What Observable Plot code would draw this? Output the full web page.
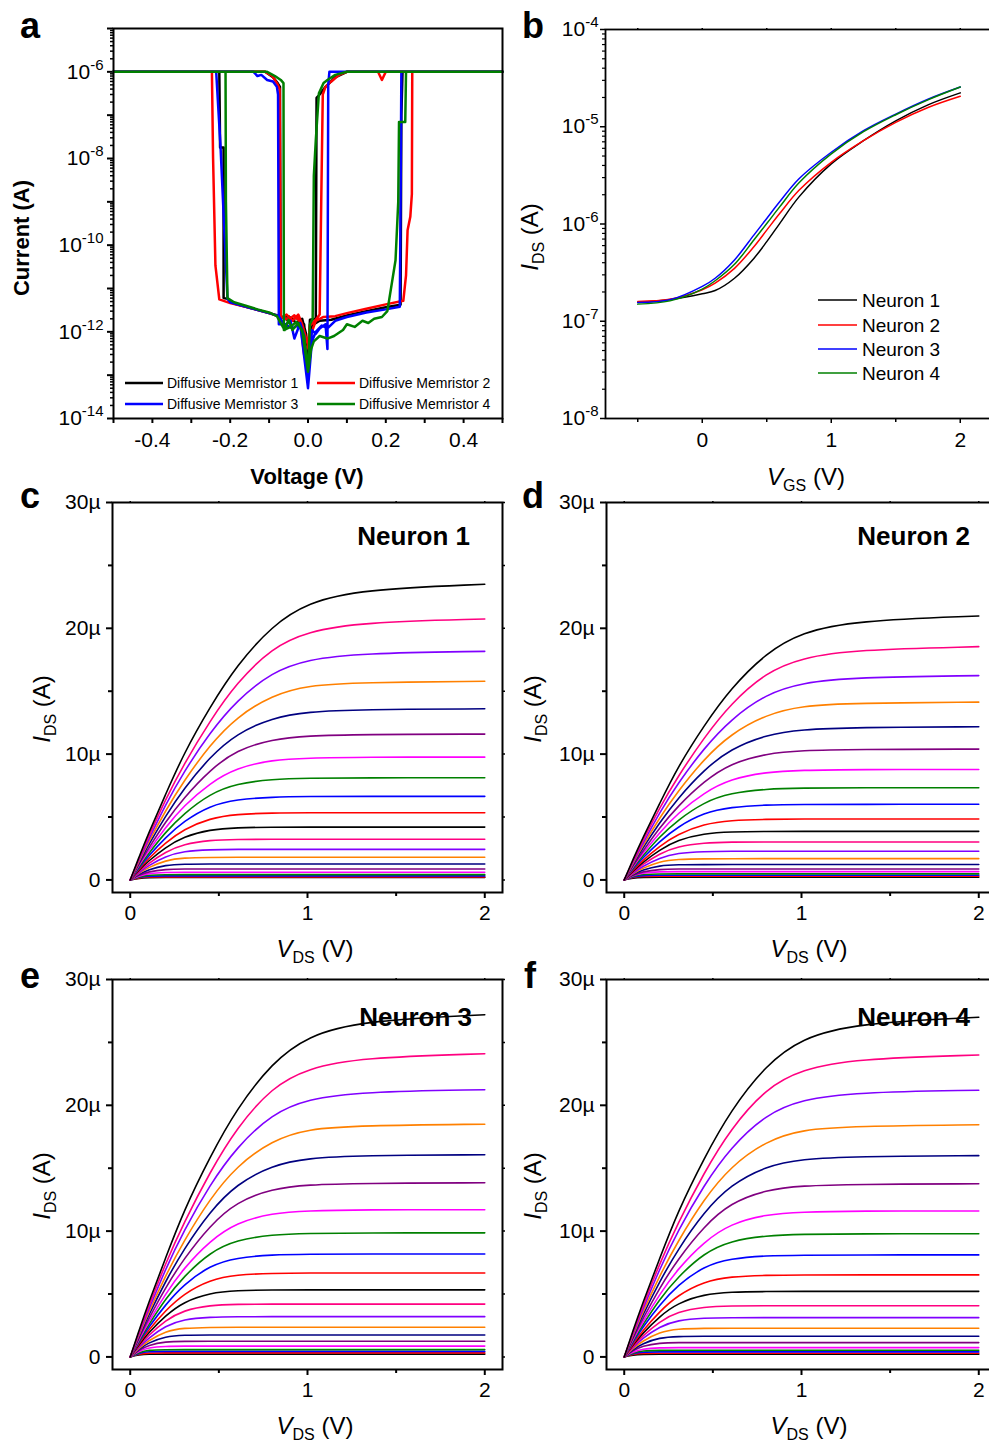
<!DOCTYPE html>
<html><head><meta charset="utf-8">
<script src="https://cdn.jsdelivr.net/npm/d3@7"></script>
<script src="https://cdn.jsdelivr.net/npm/@observablehq/plot@0.6"></script>
<style>
body{margin:0;background:#fff;overflow:hidden}
#root{position:relative;width:989px;height:1444px;overflow:hidden;background:#fff}
#root svg{position:absolute}
</style></head>
<body><div id="root"></div>
<script>
const FONT = '"Liberation Sans", Arial, Helvetica, sans-serif';

// ---------- Panel a : I-V of diffusive memristors, [V, I] in sweep order ----------
const memristor1 = [[0,2e-13],[0.01,1.4e-12],[0.03,1.8e-12],[0.06,1.9e-12],[0.1,2.4e-12],[0.15,3.0e-12],[0.2,3.7e-12],[0.238,4.2e-12],[0.24,1e-7],[0.243,1e-6],[0.5,1e-6],[0.1,1e-6],[0.07,7.5e-7],[0.045,4.5e-7],[0.03,3e-7],[0.022,2.5e-7],[0.02,2e-12],[0.005,1.9e-12],[0,2e-13],
 [-0.01,1.5e-12],[-0.03,2.1e-12],[-0.05,1.8e-12],[-0.07,2.3e-12],[-0.1,2.7e-12],[-0.15,3.6e-12],[-0.19,4.5e-12],[-0.207,5.8e-12],[-0.217,6e-12],[-0.217,1.8e-8],[-0.226,1.8e-8],[-0.228,1e-6],[-0.5,1e-6],[-0.11,1e-6],[-0.09,7.5e-7],[-0.078,5.5e-7],[-0.072,4.5e-7],[-0.07,2.2e-12],[-0.05,2.3e-12],[-0.03,1.6e-12],[-0.015,2e-12],[-0.005,9e-13],[0,2e-13]];
const memristor2 = [[0,5e-13],[0.01,1e-12],[0.02,1.8e-12],[0.04,2.2e-12],[0.07,2.3e-12],[0.1,2.7e-12],[0.15,3.4e-12],[0.2,4.3e-12],[0.245,5.2e-12],[0.252,2e-11],[0.256,2.2e-10],[0.263,4.5e-10],[0.267,1.5e-9],[0.268,1e-6],[0.5,1e-6],[0.2,1e-6],[0.19,6.5e-7],[0.18,1e-6],[0.1,1e-6],[0.08,8.5e-7],[0.06,6e-7],[0.045,4.5e-7],[0.038,3e-7],[0.034,1e-9],[0.03,2.5e-12],[0.02,1.9e-12],[0.005,1.4e-12],[0,5e-13],
 [-0.01,3e-13],[-0.02,1.7e-12],[-0.035,2.4e-12],[-0.05,1.9e-12],[-0.07,2.2e-12],[-0.1,2.7e-12],[-0.15,3.6e-12],[-0.2,4.6e-12],[-0.228,5.6e-12],[-0.238,3.4e-11],[-0.244,1e-8],[-0.247,1e-6],[-0.5,1e-6],[-0.11,1e-6],[-0.092,8e-7],[-0.08,5.5e-7],[-0.073,4e-7],[-0.07,2e-12],[-0.055,2.5e-12],[-0.04,1.8e-12],[-0.025,2.5e-12],[-0.015,1.5e-12],[0,5e-13]];
const memristor3 = [[0,5e-14],[0.01,6e-13],[0.02,1e-12],[0.035,1.4e-12],[0.05,1.2e-12],[0.07,1.8e-12],[0.1,2.2e-12],[0.15,2.8e-12],[0.2,3.3e-12],[0.236,3.8e-12],[0.238,1e-9],[0.24,1e-6],[0.5,1e-6],[0.055,1e-6],[0.052,5e-7],[0.05,4e-13],[0.045,1.5e-12],[0.03,1.2e-12],[0.02,9e-13],[0.01,1.1e-12],[0,5e-14],
 [-0.01,8e-13],[-0.02,1.6e-12],[-0.035,7e-13],[-0.045,1.8e-12],[-0.06,1.4e-12],[-0.075,2.3e-12],[-0.1,2.7e-12],[-0.15,3.6e-12],[-0.2,4.8e-12],[-0.207,5.8e-12],[-0.225,2e-8],[-0.236,1e-6],[-0.5,1e-6],[-0.14,1e-6],[-0.13,8e-7],[-0.12,8.5e-7],[-0.105,6.5e-7],[-0.09,6e-7],[-0.08,4.5e-7],[-0.077,3e-7],[-0.075,1.5e-12],[-0.06,1.5e-12],[-0.04,1.2e-12],[-0.02,1.5e-12],[0,5e-14]];
const memristor4 = [[0,1.2e-13],[0.008,4e-13],[0.015,6e-13],[0.03,8e-13],[0.05,7e-13],[0.067,8e-13],[0.09,1.1e-12],[0.1,1.5e-12],[0.12,1.3e-12],[0.14,1.8e-12],[0.155,1.6e-12],[0.17,2e-12],[0.19,2.2e-12],[0.204,3e-12],[0.225,4.5e-11],[0.232,1e-9],[0.234,7e-8],[0.25,7e-8],[0.252,1e-6],[0.5,1e-6],[0.1,1e-6],[0.07,8.5e-7],[0.05,6.5e-7],[0.04,5.5e-7],[0.033,4e-7],[0.028,3.2e-7],[0.02,2.6e-8],[0.015,4e-9],[0.012,2e-12],[0.005,1.5e-12],[0,1.2e-13],
 [-0.01,8e-13],[-0.025,1.6e-12],[-0.04,1.1e-12],[-0.05,1.9e-12],[-0.06,1.1e-12],[-0.08,2.3e-12],[-0.1,2.8e-12],[-0.13,3.3e-12],[-0.16,4e-12],[-0.19,4.8e-12],[-0.207,6e-12],[-0.211,1e-9],[-0.212,1e-6],[-0.5,1e-6],[-0.105,1e-6],[-0.085,8e-7],[-0.07,6.5e-7],[-0.063,5.5e-7],[-0.062,1.1e-12],[-0.045,1.3e-12],[-0.03,1.7e-12],[-0.015,1.1e-12],[0,1.2e-13]];
const memristorNames = ["Diffusive Memristor 1","Diffusive Memristor 2","Diffusive Memristor 3","Diffusive Memristor 4"];

// ---------- Panel b : transfer curves ----------
const vgsGrid = [-0.5,-0.25,0,0.1,0.25,0.4,0.5,0.6,0.75,1.0,1.25,1.5,1.75,2.0];
const transfer1 = [1.56e-7,1.67e-7,1.92e-7,2.07e-7,2.77e-7,4.43e-7,6.58e-7,1.01e-6,1.9e-6,4.15e-6,7.19e-6,1.15e-5,1.68e-5,2.23e-5];
const transfer2 = [1.6e-7,1.68e-7,2.11e-7,2.47e-7,3.5e-7,5.84e-7,8.65e-7,1.28e-6,2.22e-6,4.31e-6,7.19e-6,1.11e-5,1.58e-5,2.06e-5];
const transfer3 = [1.56e-7,1.66e-7,2.28e-7,2.77e-7,4.27e-7,7.69e-7,1.14e-6,1.69e-6,2.92e-6,5.47e-6,9.1e-6,1.35e-5,1.92e-5,2.56e-5];
const transfer4 = [1.5e-7,1.62e-7,2.14e-7,2.61e-7,3.85e-7,6.84e-7,1.01e-6,1.5e-6,2.65e-6,5.26e-6,8.89e-6,1.33e-5,1.89e-5,2.56e-5];
const neuronNames = ["Neuron 1","Neuron 2","Neuron 3","Neuron 4"];

// ---------- Panels c-f : output curves, I_DS in µA; rows = V_GS 0.0 ... 2.0 ----------
const vdsGrid = [0,0.05,0.1,0.2,0.3,0.45,0.6,0.8,1.0,1.3,2.0];
const neuron1Ids = [
[0,0.14,0.19,0.19,0.19,0.19,0.19,0.19,0.19,0.19,0.19],
[0,0.18,0.24,0.24,0.24,0.24,0.24,0.24,0.24,0.24,0.24],
[0,0.23,0.31,0.32,0.32,0.32,0.32,0.32,0.32,0.32,0.32],
[0,0.26,0.39,0.42,0.42,0.42,0.42,0.42,0.42,0.42,0.42],
[0,0.32,0.52,0.61,0.61,0.61,0.61,0.61,0.61,0.61,0.61],
[0,0.38,0.65,0.85,0.87,0.87,0.87,0.87,0.87,0.87,0.87],
[0,0.46,0.81,1.19,1.26,1.27,1.27,1.27,1.27,1.27,1.27],
[0,0.54,0.97,1.56,1.76,1.79,1.80,1.80,1.80,1.80,1.80],
[0,0.60,1.12,1.88,2.28,2.41,2.43,2.43,2.43,2.43,2.43],
[0,0.68,1.28,2.24,2.84,3.17,3.22,3.23,3.23,3.23,3.23],
[0,0.78,1.47,2.60,3.44,4.01,4.16,4.19,4.20,4.20,4.20],
[0,0.85,1.66,2.96,4.01,4.91,5.23,5.32,5.34,5.34,5.34],
[0,0.96,1.86,3.39,4.65,5.91,6.40,6.59,6.63,6.64,6.64],
[0,1.06,2.03,3.82,5.24,6.86,7.66,8.01,8.09,8.12,8.12],
[0,1.17,2.24,4.20,5.86,7.71,8.91,9.54,9.69,9.76,9.76],
[0,1.27,2.43,4.64,6.49,8.75,10.32,11.18,11.46,11.56,11.59],
[0,1.36,2.72,5.10,7.21,9.79,11.63,12.89,13.37,13.55,13.60],
[0,1.48,2.92,5.53,7.82,10.74,12.95,14.68,15.47,15.70,15.79],
[0,1.60,3.09,6.00,8.54,11.72,14.26,16.53,17.53,18.02,18.17],
[0,1.70,3.32,6.43,9.13,12.65,15.66,18.46,19.74,20.47,20.74],
[0,1.83,3.60,6.82,9.99,13.75,17.04,20.21,22.04,23.08,23.50]];
const neuron2Ids = [
[0,0.16,0.21,0.21,0.21,0.21,0.21,0.21,0.21,0.21,0.21],
[0,0.22,0.28,0.29,0.29,0.29,0.29,0.29,0.29,0.29,0.29],
[0,0.26,0.36,0.37,0.37,0.37,0.37,0.37,0.37,0.37,0.37],
[0,0.30,0.45,0.48,0.48,0.48,0.48,0.48,0.48,0.48,0.48],
[0,0.35,0.56,0.66,0.66,0.66,0.66,0.66,0.66,0.66,0.66],
[0,0.38,0.65,0.85,0.87,0.87,0.87,0.87,0.87,0.87,0.87],
[0,0.44,0.78,1.15,1.21,1.22,1.22,1.22,1.22,1.22,1.22],
[0,0.51,0.91,1.47,1.65,1.68,1.69,1.69,1.69,1.69,1.69],
[0,0.56,1.05,1.77,2.14,2.26,2.28,2.28,2.28,2.28,2.28],
[0,0.63,1.19,2.10,2.66,2.96,3.01,3.02,3.02,3.02,3.02],
[0,0.71,1.35,2.39,3.17,3.69,3.82,3.85,3.86,3.86,3.86],
[0,0.77,1.50,2.69,3.63,4.45,4.74,4.82,4.84,4.84,4.84],
[0,0.87,1.68,3.07,4.21,5.35,5.79,5.97,6.00,6.01,6.01],
[0,0.95,1.83,3.45,4.73,6.19,6.91,7.23,7.30,7.33,7.33],
[0,1.05,2.02,3.78,5.27,6.94,8.02,8.58,8.72,8.78,8.78],
[0,1.14,2.18,4.16,5.82,7.85,9.26,10.04,10.29,10.37,10.40],
[0,1.22,2.43,4.56,6.45,8.76,10.41,11.54,11.96,12.12,12.17],
[0,1.33,2.61,4.95,6.99,9.61,11.59,13.14,13.85,14.05,14.13],
[0,1.43,2.76,5.36,7.63,10.47,12.75,14.78,15.67,16.11,16.24],
[0,1.52,2.97,5.75,8.16,11.31,14.00,16.50,17.65,18.30,18.54],
[0,1.64,3.21,6.08,8.92,12.27,15.21,18.04,19.68,20.60,20.98]];
const neuron3Ids = [
[0,0.17,0.22,0.22,0.22,0.22,0.22,0.22,0.22,0.22,0.22],
[0,0.24,0.31,0.32,0.32,0.32,0.32,0.32,0.32,0.32,0.32],
[0,0.31,0.43,0.44,0.44,0.44,0.44,0.44,0.44,0.44,0.44],
[0,0.36,0.54,0.58,0.58,0.58,0.58,0.58,0.58,0.58,0.58],
[0,0.46,0.74,0.85,0.86,0.86,0.86,0.86,0.86,0.86,0.86],
[0,0.55,0.93,1.22,1.24,1.24,1.24,1.24,1.24,1.24,1.24],
[0,0.63,1.11,1.64,1.73,1.74,1.74,1.74,1.74,1.74,1.74],
[0,0.71,1.27,2.05,2.30,2.35,2.36,2.36,2.36,2.36,2.36],
[0,0.78,1.47,2.48,3.00,3.17,3.20,3.20,3.20,3.20,3.20],
[0,0.88,1.66,2.92,3.70,4.12,4.18,4.20,4.20,4.20,4.20],
[0,0.99,1.87,3.30,4.37,5.09,5.28,5.32,5.33,5.33,5.33],
[0,1.07,2.07,3.70,5.00,6.14,6.54,6.64,6.67,6.67,6.67],
[0,1.19,2.29,4.17,5.73,7.28,7.89,8.12,8.16,8.18,8.18],
[0,1.28,2.47,4.63,6.36,8.33,9.30,9.72,9.82,9.86,9.86],
[0,1.40,2.69,5.03,7.02,9.24,10.68,11.43,11.62,11.70,11.70],
[0,1.52,2.91,5.54,7.75,10.45,12.32,13.36,13.69,13.80,13.84],
[0,1.61,3.21,6.03,8.52,11.57,13.74,15.23,15.80,16.01,16.07],
[0,1.74,3.42,6.48,9.16,12.58,15.17,17.21,18.13,18.39,18.50],
[0,1.87,3.61,7.01,9.98,13.70,16.67,19.33,20.50,21.07,21.24],
[0,1.98,3.86,7.47,10.60,14.70,18.20,21.45,22.94,23.79,24.10],
[0,2.12,4.16,7.89,11.56,15.91,19.72,23.39,25.51,26.71,27.20]];
const neuron4Ids = [
[0,0.16,0.21,0.21,0.21,0.21,0.21,0.21,0.21,0.21,0.21],
[0,0.22,0.28,0.29,0.29,0.29,0.29,0.29,0.29,0.29,0.29],
[0,0.28,0.39,0.40,0.40,0.40,0.40,0.40,0.40,0.40,0.40],
[0,0.33,0.49,0.53,0.53,0.53,0.53,0.53,0.53,0.53,0.53],
[0,0.39,0.63,0.74,0.74,0.74,0.74,0.74,0.74,0.74,0.74],
[0,0.50,0.86,1.12,1.14,1.14,1.14,1.14,1.14,1.14,1.14],
[0,0.59,1.05,1.54,1.63,1.64,1.64,1.64,1.64,1.64,1.64],
[0,0.68,1.23,1.98,2.23,2.27,2.28,2.28,2.28,2.28,2.28],
[0,0.76,1.44,2.42,2.92,3.10,3.12,3.12,3.12,3.12,3.12],
[0,0.85,1.61,2.83,3.58,3.99,4.05,4.07,4.07,4.07,4.07],
[0,0.96,1.82,3.23,4.27,4.98,5.16,5.20,5.21,5.21,5.21],
[0,1.04,2.02,3.62,4.89,6.00,6.39,6.49,6.52,6.52,6.52],
[0,1.18,2.27,4.14,5.68,7.22,7.82,8.05,8.09,8.11,8.11],
[0,1.27,2.45,4.60,6.31,8.27,9.23,9.65,9.75,9.79,9.79],
[0,1.39,2.67,4.99,6.96,9.16,10.59,11.33,11.52,11.60,11.60],
[0,1.51,2.89,5.50,7.71,10.39,12.25,13.28,13.61,13.72,13.76],
[0,1.60,3.20,6.00,8.48,11.52,13.68,15.17,15.73,15.94,16.00],
[0,1.73,3.41,6.46,9.13,12.55,15.13,17.16,18.08,18.34,18.45],
[0,1.87,3.60,7.00,9.96,13.67,16.64,19.29,20.46,21.03,21.20],
[0,1.97,3.84,7.44,10.56,14.64,18.12,21.36,22.85,23.69,24.00],
[0,2.11,4.13,7.83,11.48,15.80,19.58,23.22,25.33,26.51,27.00]];

// ---------- ticks ----------
const aYMajor = [1e-14,1e-12,1e-10,1e-8,1e-6];
const aYOdd = [1e-13,1e-11,1e-9,1e-7,1e-5];
const aXMajor = [-0.4,-0.2,0,0.2,0.4];
const aXMinor = [-0.5,-0.3,-0.1,0.1,0.3,0.5];
const bYMajor = [1e-8,1e-7,1e-6,1e-5,1e-4];
const bXMajor = [0,1,2];
const bXMinor = [-0.5,0.5,1.5];
const ivYMajor = [0,10,20,30];
const ivYMinor = [5,15,25];
const ivXMajor = [0,1,2];
const ivXMinor = [0.5,1.5];
function logMinor(lo, hi) { const o = []; for (let e = lo; e < hi; e++) for (let m = 2; m <= 9; m++) o.push(m * Math.pow(10, e)); return o; }

// ---------- styles ----------
const memColors = ["#000000","#ff0000","#0000ff","#008000"];
const ivPalette = ["#000000","#ff0000","#0000ff","#008000","#ff00ff","#800080","#000080","#ff8000","#8000ff","#ff0080"];
const baseStyle = {fontFamily: FONT, fontSize: "21px", color: "black", background: "transparent", overflow: "visible"};
const blank = () => "";
const root = document.getElementById("root");
function place(svg, left, top) { svg.style.left = left + "px"; svg.style.top = top + "px"; root.appendChild(svg); return svg; }
function supLabels(svg) {
  d3.select(svg).selectAll('g[aria-label="y-axis tick label"] text').each(function () {
    const m = /^10\^(-?\d+)$/.exec(this.textContent);
    if (!m) return;
    const s = d3.select(this); s.text(null);
    s.append("tspan").text("10");
    s.append("tspan").attr("dy", "-0.6em").attr("font-size", 15).text(m[1]);
  });
}
const logFmt = d => "10^" + Math.round(Math.log10(d));

// ---------- panel a ----------
const pa = Plot.plot({
  width: 510, height: 470, marginLeft: 113, marginRight: 8, marginTop: 28, marginBottom: 52,
  style: baseStyle,
  x: {domain: [-0.5, 0.5], label: null},
  y: {type: "log", domain: [1e-14, 1e-5], label: null},
  marks: [
    Plot.axisY({ticks: aYMajor, tickSize: 6, tickPadding: 4, tickFormat: logFmt, strokeWidth: 2, label: null}),
    Plot.axisY({ticks: aYOdd, tickSize: 6, tickFormat: blank, strokeWidth: 2, label: null}),
    Plot.axisY({ticks: logMinor(-14, -5), tickSize: 3, tickFormat: blank, strokeWidth: 1.5, label: null}),
    Plot.axisX({ticks: aXMajor, tickSize: 5, tickPadding: 9, tickFormat: d => d.toFixed(1), strokeWidth: 2, label: null}),
    Plot.axisX({ticks: aXMinor, tickSize: 5, tickFormat: blank, strokeWidth: 2, label: null}),
    ...[memristor1, memristor2, memristor3, memristor4].map((m, i) =>
      Plot.line(m, {x: d => d[0], y: d => d[1], stroke: memColors[i], strokeWidth: 2.5, strokeLinejoin: "round"})),
    Plot.frame({stroke: "black", strokeWidth: 2})
  ]
});
supLabels(pa);
place(pa, 0, 0);
{
  const g = d3.select(pa).append("g").attr("font-family", FONT).attr("font-size", 14).attr("text-anchor", "start");
  const pos = [[125, 383], [317, 383], [125, 404], [317, 404]];
  memristorNames.forEach((n, i) => {
    const [x, y] = pos[i];
    g.append("line").attr("x1", x).attr("x2", x + 38).attr("y1", y).attr("y2", y).attr("stroke", memColors[i]).attr("stroke-width", 2.5);
    g.append("text").attr("x", x + 42).attr("y", y + 5).attr("text-anchor", "start").text(n);
  });
}

// ---------- panel b ----------
const transferRows = [transfer1, transfer2, transfer3, transfer4];
const pb = Plot.plot({
  width: 489, height: 470, marginLeft: 95, marginRight: 7, marginTop: 29, marginBottom: 52,
  style: baseStyle,
  x: {domain: [-0.75, 2.25], label: null},
  y: {type: "log", domain: [1e-8, 1e-4], label: null},
  marks: [
    Plot.axisY({ticks: bYMajor, tickSize: 5, tickPadding: 2, tickFormat: logFmt, strokeWidth: 1.5, label: null}),
    Plot.axisY({ticks: logMinor(-8, -4), tickSize: 3, tickFormat: blank, strokeWidth: 1.2, label: null}),
    Plot.axisX({ticks: bXMajor, tickSize: 5, tickPadding: 9, tickFormat: d => String(d), strokeWidth: 1.5, label: null}),
    Plot.axisX({ticks: bXMinor, tickSize: 4, tickFormat: blank, strokeWidth: 1.5, label: null}),
    Plot.axisX({anchor: "top", ticks: [...bXMajor, ...bXMinor], tickSize: 2, tickFormat: blank, strokeWidth: 1.5, label: null}),
    ...transferRows.map((r, i) =>
      Plot.line(r.map((v, j) => ({vgs: vgsGrid[j], ids: v})), {x: "vgs", y: "ids", stroke: memColors[i], strokeWidth: 1.5, curve: "catmull-rom"})),
    Plot.frame({stroke: "black", strokeWidth: 1.8})
  ]
});
supLabels(pb);
place(pb, 510, 0);
{
  const g = d3.select(pb).append("g").attr("font-family", FONT).attr("font-size", 19).attr("text-anchor", "start");
  const ys = [300, 325, 349, 373];
  neuronNames.forEach((n, i) => {
    g.append("line").attr("x1", 308).attr("x2", 347).attr("y1", ys[i]).attr("y2", ys[i]).attr("stroke", memColors[i]).attr("stroke-width", 1.5);
    g.append("text").attr("x", 352).attr("y", ys[i] + 7).attr("text-anchor", "start").text(n);
  });
}

// ---------- panels c-f ----------
function ivPlot(rows, left, top) {
  const data = rows.flatMap((r, k) => r.map((v, j) => ({vds: vdsGrid[j], ids: v, k})));
  const svg = Plot.plot({
    width: 510, height: 477, marginLeft: 112, marginRight: 8, marginTop: 32, marginBottom: 55,
    style: baseStyle,
    color: {type: "identity"},
    x: {domain: [-0.1, 2.1], label: null},
    y: {domain: [-1, 30], label: null},
    marks: [
      Plot.axisY({ticks: ivYMajor, tickSize: 6, tickPadding: 6, tickFormat: d => d === 0 ? "0" : d + "µ", strokeWidth: 2, label: null}),
      Plot.axisY({ticks: ivYMinor, tickSize: 4, tickFormat: blank, strokeWidth: 2, label: null}),
      Plot.axisY({anchor: "right", ticks: [...ivYMajor, ...ivYMinor], tickSize: 2, tickFormat: blank, strokeWidth: 1.5, label: null}),
      Plot.axisX({ticks: ivXMajor, tickSize: 6, tickPadding: 7, tickFormat: d => String(d), strokeWidth: 2, label: null}),
      Plot.axisX({ticks: ivXMinor, tickSize: 4, tickFormat: blank, strokeWidth: 2, label: null}),
      Plot.axisX({anchor: "top", ticks: [...ivXMajor, ...ivXMinor], tickSize: 2, tickFormat: blank, strokeWidth: 1.5, label: null}),
      Plot.line(data, {x: "vds", y: "ids", z: "k", stroke: d => ivPalette[d.k % 10], strokeWidth: 1.6, curve: "basis"}),
      Plot.frame({stroke: "black", strokeWidth: 2})
    ]
  });
  return place(svg, left, top);
}
ivPlot(neuron1Ids, 0, 470);
ivPlot(neuron2Ids, 494, 470);
ivPlot(neuron3Ids, 0, 947);
ivPlot(neuron4Ids, 494, 947);

// ---------- overlay text ----------
const ov = d3.select(root).append("svg").attr("width", 989).attr("height", 1444)
  .style("left", "0px").style("top", "0px").attr("font-family", FONT).style("pointer-events", "none");
[["a", 20, 38], ["b", 522, 38], ["c", 20, 508], ["d", 522, 508], ["e", 20, 988], ["f", 524, 988]].forEach(([t, x, y]) =>
  ov.append("text").attr("x", x).attr("y", y).attr("font-size", 36).attr("font-weight", "bold").text(t));
ov.append("text").attr("transform", "translate(29,238) rotate(-90)").attr("text-anchor", "middle")
  .attr("font-size", 22).attr("font-weight", "bold").text("Current (A)");
ov.append("text").attr("x", 307).attr("y", 484).attr("text-anchor", "middle")
  .attr("font-size", 22).attr("font-weight", "bold").text("Voltage (V)");
function subLabel(main, sub, tail, x, y, rotate) {
  const t = ov.append("text").attr("text-anchor", "middle").attr("font-size", 24)
    .attr("transform", rotate ? `translate(${x},${y}) rotate(-90)` : `translate(${x},${y})`);
  t.append("tspan").attr("font-style", "italic").text(main);
  t.append("tspan").attr("font-size", 16).attr("dy", 6).text(sub);
  t.append("tspan").attr("dy", -6).text("\u00a0" + tail);
}
subLabel("I", "DS", "(A)", 538, 237, true);
subLabel("V", "GS", "(V)", 806, 485, false);
[[0, 0], [494, 0], [0, 477], [494, 477]].forEach(([dx, dy]) => {
  subLabel("I", "DS", "(A)", 50 + dx - (dx ? 3 : 0), 709 + dy, true);
  subLabel("V", "DS", "(V)", 315 + dx, 957 + dy, false);
});
[["Neuron 1", 470, 545], ["Neuron 2", 970, 545], ["Neuron 3", 472, 1026], ["Neuron 4", 970, 1026]].forEach(([t, x, y]) =>
  ov.append("text").attr("x", x).attr("y", y).attr("text-anchor", "end").attr("font-size", 26).attr("font-weight", "bold").text(t));
</script>
</body></html>
